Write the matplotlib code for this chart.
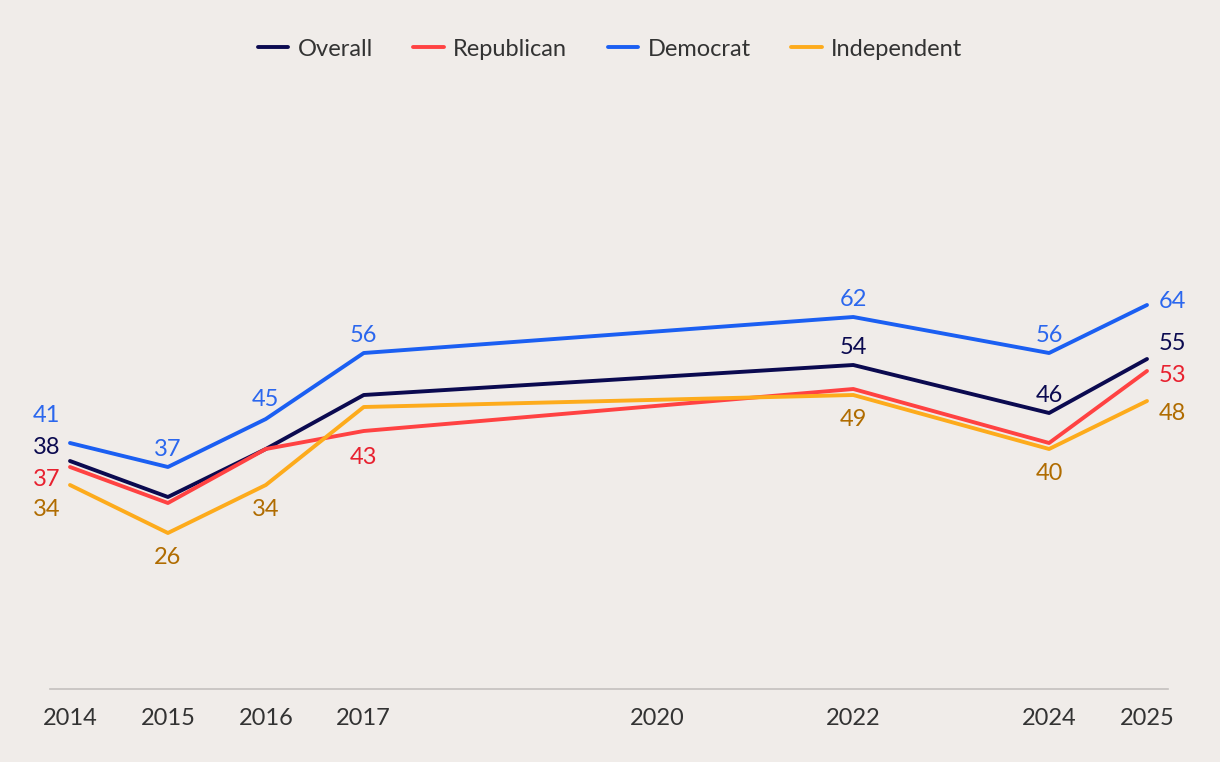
import matplotlib.pyplot as plt

plt.rcParams['font.family'] = ['Lato', 'DejaVu Sans']

# data
years = [2014, 2015, 2016, 2017, 2022, 2024, 2025]
tick_years = [2014, 2015, 2016, 2017, 2020, 2022, 2024, 2025]
overall = [38, 32, 40, 49, 54, 46, 55]
republican = [37, 31, 40, 43, 50, 41, 53]
democrat = [41, 37, 45, 56, 62, 56, 64]
independent = [34, 26, 34, 47, 49, 40, 48]

series = [
    ("Overall", overall, "#0b0a50", "#0b0a50"),
    ("Republican", republican, "#ff4242", "#e8212f"),
    ("Democrat", democrat, "#1b5ff2", "#2b67ee"),
    ("Independent", independent, "#fdab1c", "#b06c00"),
]

# which points get a value label, and where (pixel offsets, ha)
label_pos = {
    "Overall": {2014: (-10, 13, 'right'), 2022: (0, 17, 'center'),
                2024: (0, 18, 'center'), 2025: (12, 16, 'left')},
    "Republican": {2014: (-10, -13, 'right'), 2017: (0, -26, 'center'),
                   2025: (12, -5, 'left')},
    "Democrat": {2014: (-10, 28, 'right'), 2015: (0, 18, 'center'),
                 2016: (0, 19, 'center'), 2017: (0, 18, 'center'),
                 2022: (0, 18, 'center'), 2024: (0, 18, 'center'),
                 2025: (12, 4, 'left')},
    "Independent": {2014: (-10, -25, 'right'), 2015: (0, -25, 'center'),
                    2016: (0, -25, 'center'), 2022: (0, -25, 'center'),
                    2024: (0, -25, 'center'), 2025: (12, -12, 'left')},
}

bg = "#f0ece9"
fig = plt.figure(figsize=(12.2, 7.62), dpi=100, facecolor=bg)
ax = fig.add_axes([50 / 1220, 1 - 689 / 762, 1118 / 1220, 600 / 762])
ax.set_facecolor(bg)

for name, vals, col, lcol in series:
    ax.plot(years, vals, color=col, lw=2.8, label=name, solid_capstyle='round')
    for yr, (dx, dy, ha) in label_pos[name].items():
        v = vals[years.index(yr)]
        ax.annotate(str(v), (yr, v), xytext=(dx, dy), textcoords='offset pixels',
                    ha=ha, va='center', color=lcol, fontsize=17)

ax.set_xlim(2014 - 20 / 97.9, 2025 + 21 / 97.9)
ax.set_ylim(0, 100)
ax.set_xticks(tick_years)
ax.set_xticklabels([str(y) for y in tick_years], fontsize=17, color="#333333")
ax.tick_params(axis='x', length=0, pad=14)
ax.set_yticks([])
for s in ['top', 'right', 'left']:
    ax.spines[s].set_visible(False)
ax.spines['bottom'].set_color("#c4c0be")
ax.spines['bottom'].set_linewidth(1.2)

fig.legend(loc='center', bbox_to_anchor=(0.5, 1 - 49 / 762), ncol=4, frameon=False,
           fontsize=17, handlelength=1.3, handletextpad=0.4, columnspacing=1.7,
           labelcolor="#333333")

fig.savefig("out.png", dpi=100, facecolor=bg)
